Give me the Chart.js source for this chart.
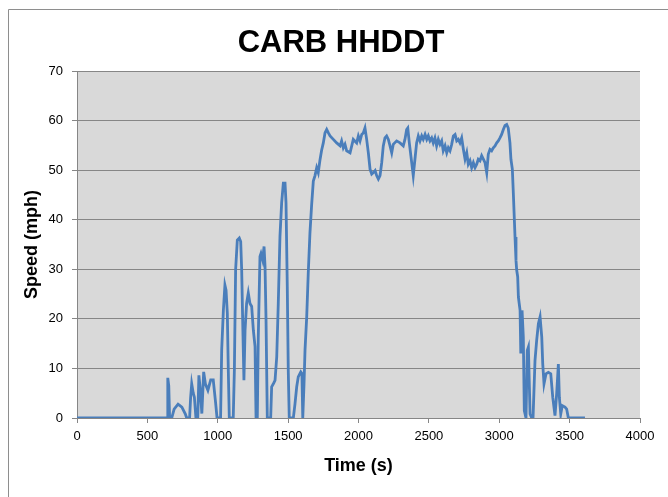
<!DOCTYPE html>
<html>
<head>
<meta charset="utf-8">
<script src="https://cdn.jsdelivr.net/npm/chart.js@4/dist/chart.umd.min.js"></script>
<style>
html,body{margin:0;padding:0;background:#fff;}
#wrap{width:668px;height:497px;position:relative;}
</style>
</head>
<body>
<div id="wrap"><canvas id="c" width="668" height="497"></canvas></div>
<script>
const chartTitle = 'CARB HHDDT';
const xAxisTitle = 'Time (s)';
const yAxisTitle = 'Speed (mph)';
const xTicks = [0, 500, 1000, 1500, 2000, 2500, 3000, 3500, 4000];
const yTicks = [0, 10, 20, 30, 40, 50, 60, 70];

const timeSec = [0,640,645,652,658,673,690,718,745,770,779,800,807,815,826,834,845,858,866,875,887,900,912,930,950,968,985,995,
1020,1028,1040,1051,1059,1068,1075,1082,1110,1118,1127,1139,1153,1163,1170,1177,1186,1194,1205,1217,1229,1241,1253,1265,1272,1281,
1288,1300,1307,1319,1329,1336,1343,1352,1376,1383,1395,1407,1419,1430,1442,1454,1466,1478,1485,1494,1501,1508,1537,1549,1561,1572,
1590,1598,1604,1613,1620,1632,1643,1655,1667,1679,1691,1703,1714,1726,1738,1750,1762,1774,1786,1798,1821,1845,1869,1880,1892,1904,
1916,1940,1963,1987,1999,2011,2023,2034,2046,2058,2070,2082,2094,2106,2118,2129,2141,2153,2165,2176,2188,2200,2212,2224,2236,2247,
2271,2295,2318,2330,2342,2350,2361,2378,2389,2401,2413,2425,2437,2449,2460,2473,2485,2496,2508,2520,2531,2543,2555,2567,2579,2591,
2602,2615,2627,2638,2650,2662,2674,2686,2698,2709,2721,2733,2745,2757,2769,2780,2792,2804,2816,2828,2840,2851,2863,2875,2887,2899,
2911,2922,2934,2946,2958,2970,2982,2993,3005,3017,3029,3041,3053,3064,3076,3083,3093,3100,3112,3119,3124,3131,3136,3148,3153,3162,
3171,3178,3190,3199,3207,3219,3231,3240,3254,3266,3278,3290,3302,3309,3318,3332,3349,3366,3380,3396,3408,3420,3427,3437,3448,3467,
3479,3491,3609];

const speedMph = [0,0,8.1,6.5,0,0,1.8,2.8,2.2,0.8,0,0,4,6.9,5,4.2,0,0,8.6,6,0.9,9.3,6.9,5.6,7.7,7.7,3,0,
0,13.7,21.8,26.8,25.8,21.1,9.6,0,0,9.6,29.9,35.9,36.3,35.6,29.9,19.8,7.6,17.7,23.1,25.2,23.1,22.5,17.7,14.4,0,0,
16.4,32.6,33.2,31.9,34.6,30.5,19.8,0,0,6.3,6.9,7.6,12.3,23.1,36.6,43.4,47.4,47.4,43.4,26.5,9.6,0,0,2.9,6.3,8.3,
9.3,9,0,6.9,13.7,20.4,29.2,37.3,43,47.8,48.9,50.5,49.5,52,54,55.5,57.5,58.2,57.5,56.9,56.2,55.5,54.9,55.9,54.5,55.2,
53.9,53.5,56.2,55.5,56.9,55.9,57.2,57.5,58.5,56.2,53.5,50.2,49.2,49.5,49.9,48.9,48.2,48.9,51.5,54.9,56.5,56.9,56.2,54.9,53.5,55.2,
55.9,55.5,54.9,56.2,58.2,58.5,55.5,51.5,48.9,52.2,55.5,56.9,55.9,56.9,56.2,57.2,56.2,56.9,55.9,56.5,55.5,56.5,54.9,56.2,55.2,55.9,
53.9,54.9,53.5,54.5,53.9,55.2,56.9,57.2,55.9,56.2,55.5,56.5,54.2,52.2,53.5,51.2,51.9,50.5,51.5,50.5,51.2,52.2,51.9,52.9,52.2,51.5,
49.5,53.2,54.2,53.9,54.5,54.9,55.5,55.9,56.5,57.2,58.2,59,59.2,58.5,55.5,52.2,50.2,45.4,36.5,31.8,29.8,28.5,24.4,21.7,13,21.7,
16.3,1.5,0,13.6,14.3,0.8,0,0,11.6,15.7,19,20.4,16.3,10.9,6.9,8.9,9.2,8.9,4.2,0.5,4.9,10.9,4.2,0.8,2.5,2.2,
1.8,0,0];

const points = timeSec.map((t, i) => ({x: t, y: speedMph[i]}));

const frame = {
  id: 'frame',
  beforeDraw(chart) {
    const ctx = chart.ctx;
    ctx.save();
    ctx.fillStyle = '#ffffff';
    ctx.fillRect(0, 0, chart.width, chart.height);
    const a = chart.chartArea;
    ctx.fillStyle = '#d9d9d9';
    ctx.fillRect(a.left, a.top, a.right - a.left, a.bottom - a.top);
    ctx.strokeStyle = '#8e8e8e';
    ctx.lineWidth = 1;
    ctx.beginPath();
    ctx.moveTo(8.5, chart.height);
    ctx.lineTo(8.5, 9.5);
    ctx.lineTo(chart.width, 9.5);
    ctx.stroke();
    ctx.restore();
  }
};

const fam = "'Liberation Sans', Arial, sans-serif";

new Chart(document.getElementById('c'), {
  type: 'line',
  data: {
    datasets: [{
      data: points,
      borderColor: '#4a7ebb',
      borderWidth: 2.8,
      pointRadius: 0,
      tension: 0,
      fill: false
    }]
  },
  options: {
    responsive: false,
    animation: false,
    devicePixelRatio: 1,
    layout: {padding: {left: 18, right: 4, top: 0, bottom: 20}},
    plugins: {
      legend: {display: false},
      tooltip: {enabled: false},
      title: {
        display: true,
        text: chartTitle,
        color: '#000',
        font: {family: fam, size: 31, weight: 'bold', lineHeight: 1.2},
        padding: {top: 25, bottom: 8.8}
      }
    },
    scales: {
      x: {
        type: 'linear',
        min: 0, max: 4000,
        afterBuildTicks(s) { s.ticks = xTicks.map(v => ({value: v})); },
        afterFit(s) { s.height = 59; },
        grid: {display: true, drawOnChartArea: false, drawTicks: true, tickLength: 5, color: '#868686'},
        border: {display: true, color: '#868686', width: 1},
        ticks: {color: '#000', font: {family: fam, size: 13}, padding: 6, maxRotation: 0, autoSkip: false,
                callback: v => String(v)},
        title: {display: true, text: xAxisTitle, color: '#000', font: {family: fam, size: 18, weight: 'bold'}, padding: {top: 4, bottom: 0}}
      },
      y: {
        type: 'linear',
        position: 'left',
        min: 0, max: 70,
        afterBuildTicks(s) { s.ticks = yTicks.map(v => ({value: v})); },
        afterFit(s) { s.width = 59; },
        grid: {display: true, drawOnChartArea: true, drawTicks: true, tickLength: 5, color: '#868686'},
        border: {display: true, color: '#868686', width: 1},
        ticks: {color: '#000', font: {family: fam, size: 13}, padding: 9, callback: v => String(v)},
        title: {display: true, text: yAxisTitle, color: '#000', font: {family: fam, size: 18, weight: 'bold'}, padding: {top: 3, bottom: 0}}
      },
      yRight: {
        type: 'linear',
        position: 'right',
        display: true,
        afterFit(s) { s.width = 24; },
        grid: {display: false, drawTicks: false},
        border: {display: false},
        ticks: {display: false}
      }
    }
  },
  plugins: [frame]
});
</script>
</body>
</html>
